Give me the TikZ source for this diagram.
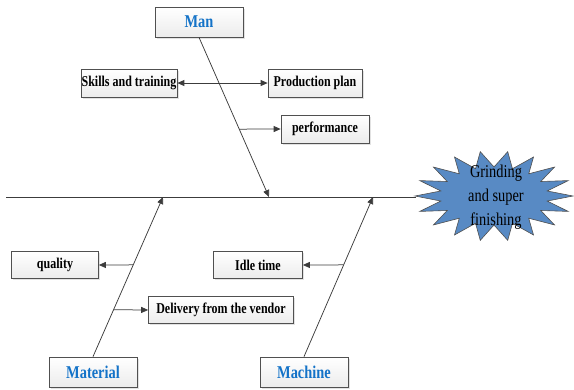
\documentclass[tikz,border=0pt]{standalone}
\usepackage{fontspec}
\setmainfont{Liberation Serif}[FakeStretch=0.8]
\usetikzlibrary{shadows,arrows.meta,calc}
\definecolor{headblue}{RGB}{20,115,200}
\definecolor{starblue}{RGB}{88,138,196}
\definecolor{edgec}{RGB}{80,80,80}
\definecolor{linec}{RGB}{60,60,60}
\begin{document}
\begin{tikzpicture}[x=1pt,y=-1pt,
 box/.style={draw=edgec, line width=0.7pt, top color=white, bottom color=gray!15,
   drop shadow={shadow xshift=1.5pt, shadow yshift=-1.5pt, fill=gray!45},
   minimum height=28pt, inner sep=0pt, font=\fontsize{15}{17}\selectfont\bfseries},
 headbox/.style={box, minimum width=88pt, minimum height=30pt,
   font=\fontsize{18}{20}\selectfont\bfseries, text=headblue},
 conn/.style={draw=linec, line width=0.75pt, -{Triangle[length=7pt,width=6pt]}},
 both/.style={draw=linec, line width=0.75pt, {Triangle[length=7pt,width=6pt]}-{Triangle[length=7pt,width=6pt]}},
]
\useasboundingbox (0,0) rectangle (574,389);

% spine
\coordinate (spinestart) at (6,197);
\coordinate (tip) at (416,197);
\draw[linec, line width=0.8pt] (spinestart) -- (tip);

% head star
\begin{scope}[shift={(494,196)}]
\draw[draw=edgec, fill=starblue, line width=0.6pt] (79,0)
  \foreach \i [evaluate=\i as \rx using {mod(\i,2)==0?79:54},
               evaluate=\i as \ry using {mod(\i,2)==0?45:29}] in {1,...,35}
     { -- ({\rx*cos(\i*10)},{\ry*sin(\i*10)}) } -- cycle;
\end{scope}
\node[font=\fontsize{18}{24}\selectfont, align=center, inner sep=0pt] (goal) at (496,197) {Grinding\\and super\\finishing};

% category boxes
\node[headbox] (man) at (199,22) {Man};
\node[headbox] (material) at (93,372) {Material};
\node[headbox] (machine) at (304,372) {Machine};

% cause boxes
\node[box, minimum width=96pt] (skills) at (129,83) {Skills and training};
\node[box, minimum width=94pt] (prod) at (315,83) {Production plan};
\node[box, minimum width=88pt] (perf) at (325,129) {performance};
\node[box, minimum width=87pt, minimum height=27pt] (quality) at (55,265) {quality};
\node[box, minimum width=145pt, minimum height=27pt] (delivery) at (221,310) {Delivery from the vendor};
\node[box, minimum width=89pt, minimum height=27pt] (idle) at (258,265) {Idle time};

% branch ends on the spine
\coordinate (manend) at (269,197);
\coordinate (matend) at (163,197);
\coordinate (macend) at (373,197);

\draw[conn] (man.south) -- (manend);
\draw[conn] (material.north) -- (matend);
\draw[conn] (machine.north) -- (macend);

\coordinate (mp) at ($(man.south)!0.575!(manend)$);
\draw[conn] (mp) -- (perf.west);
\draw[both] (skills.east) -- (prod.west);

\coordinate (mq) at ($(material.north)!0.575!(matend)$);
\draw[conn] (mq) -- (quality.east);
\coordinate (md) at ($(material.north)!0.294!(matend)$);
\draw[conn] (md) -- (delivery.west);

\coordinate (mi) at ($(machine.north)!0.575!(macend)$);
\draw[conn] (mi) -- (idle.east);
\end{tikzpicture}
\end{document}
